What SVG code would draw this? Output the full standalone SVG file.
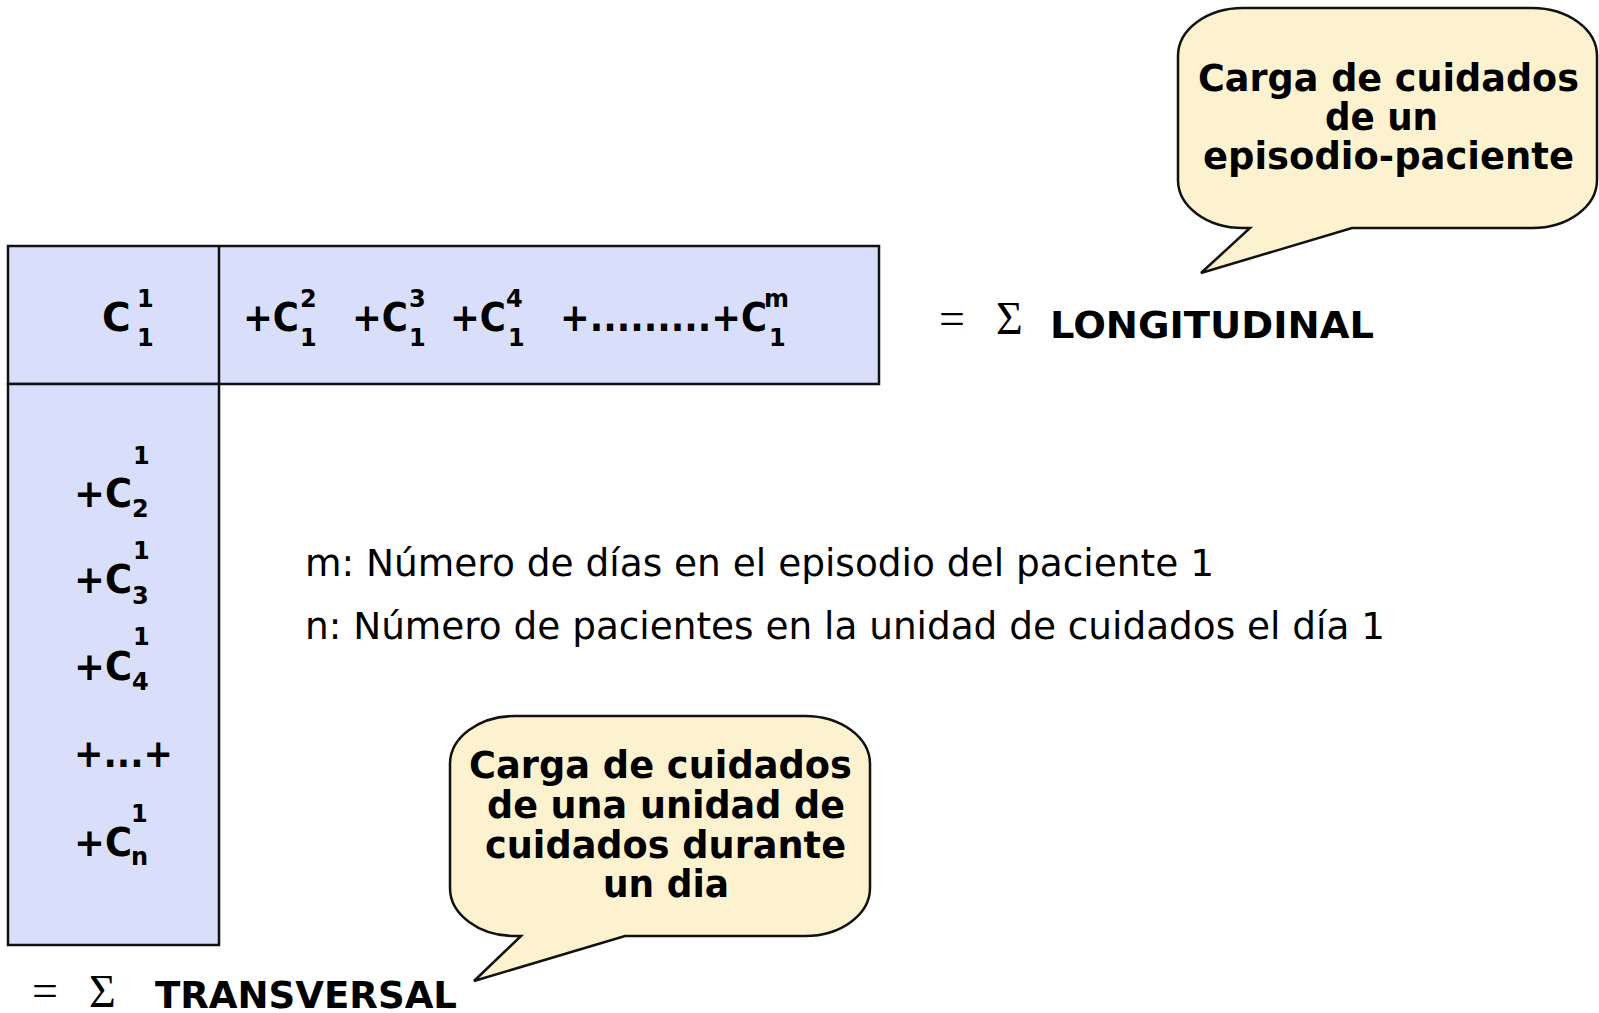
<svg xmlns="http://www.w3.org/2000/svg" width="1599" height="1013" viewBox="0 0 1599 1013">
<style>
.box{fill:#D9DFFA;stroke:#111;stroke-width:2.5}
.call{fill:#FDF2D0;stroke:#111;stroke-width:2.5}
.b{font-family:"DejaVu Sans","Liberation Sans",sans-serif;font-weight:bold;fill:#000}
.big{font-size:39px}
.sm{font-size:24px}
.ct{font-size:37px}
.r{font-family:"DejaVu Sans","Liberation Sans",sans-serif;font-size:37px;fill:#000}
.s{font-family:"Liberation Serif",serif;font-size:46px;fill:#000}
</style>
<g id="row-box">
<rect class="box" x="8" y="246" width="871" height="138"/>
<line x1="219" y1="246" x2="219" y2="384" stroke="#111" stroke-width="2.5"/>
<text class="b big" x="102" y="331">C<tspan class="sm" x="137" y="307">1</tspan><tspan class="sm" x="137" y="346">1</tspan></text>
<text class="b big" x="243" y="331"><tspan textLength="56" lengthAdjust="spacingAndGlyphs">+C</tspan><tspan class="sm" x="300" y="307">2</tspan><tspan class="sm" x="300" y="346">1</tspan></text>
<text class="b big" x="352" y="331"><tspan textLength="56" lengthAdjust="spacingAndGlyphs">+C</tspan><tspan class="sm" x="409" y="307">3</tspan><tspan class="sm" x="409" y="346">1</tspan></text>
<text class="b big" x="450" y="331"><tspan textLength="56" lengthAdjust="spacingAndGlyphs">+C</tspan><tspan class="sm" x="506" y="307">4</tspan><tspan class="sm" x="508" y="346">1</tspan></text>
<text class="b big" x="560" y="331"><tspan textLength="207" lengthAdjust="spacingAndGlyphs">+.........+C</tspan><tspan class="sm" x="764" y="307">m</tspan><tspan class="sm" x="769" y="346">1</tspan></text>
</g>
<g id="column-box">
<rect class="box" x="8" y="384" width="211" height="561"/>
<text class="b big" x="74" y="507"><tspan textLength="58" lengthAdjust="spacingAndGlyphs">+C</tspan><tspan class="sm" x="133" y="464">1</tspan><tspan class="sm" x="132" y="517">2</tspan></text>
<text class="b big" x="74" y="593"><tspan textLength="58" lengthAdjust="spacingAndGlyphs">+C</tspan><tspan class="sm" x="133" y="559">1</tspan><tspan class="sm" x="132" y="604">3</tspan></text>
<text class="b big" x="74" y="680"><tspan textLength="58" lengthAdjust="spacingAndGlyphs">+C</tspan><tspan class="sm" x="133" y="645">1</tspan><tspan class="sm" x="132" y="690">4</tspan></text>
<text class="b big" x="74" y="767" textLength="99" lengthAdjust="spacingAndGlyphs">+...+</text>
<text class="b big" x="74" y="856"><tspan textLength="58" lengthAdjust="spacingAndGlyphs">+C</tspan><tspan class="sm" x="131" y="822">1</tspan><tspan class="sm" x="131" y="865">n</tspan></text>
</g>
<g id="longitudinal">
<text class="s" x="939" y="334">=</text>
<text class="s" x="996" y="334">Σ</text>
<text class="b" font-size="38" x="1050" y="338" textLength="324" lengthAdjust="spacingAndGlyphs">LONGITUDINAL</text>
</g>
<g id="transversal">
<text class="s" x="32" y="1006">=</text>
<text class="s" x="89" y="1007">Σ</text>
<text class="b" font-size="38" x="155" y="1008" textLength="302" lengthAdjust="spacingAndGlyphs">TRANSVERSAL</text>
</g>
<g id="legend">
<text class="r" x="305" y="576" textLength="909" lengthAdjust="spacingAndGlyphs">m: Número de días en el episodio del paciente 1</text>
<text class="r" x="305" y="639" textLength="1080" lengthAdjust="spacingAndGlyphs">n: Número de pacientes en la unidad de cuidados el día 1</text>
</g>
<g id="callout-episodio">
<path class="call" d="M1243,8 H1532 A65,48 0 0 1 1597,56 V180 A65,48 0 0 1 1532,228 H1352 L1201,273 L1250,228 H1243 A65,48 0 0 1 1178,180 V56 A65,48 0 0 1 1243,8 Z"/>
<text class="b ct" x="1198" y="91" textLength="381" lengthAdjust="spacingAndGlyphs">Carga de cuidados</text>
<text class="b ct" x="1325" y="130" textLength="113" lengthAdjust="spacingAndGlyphs">de un</text>
<text class="b ct" x="1203" y="169" textLength="371" lengthAdjust="spacingAndGlyphs">episodio-paciente</text>
</g>
<g id="callout-unidad">
<path class="call" d="M515,716 H805 A65,48 0 0 1 870,764 V888 A65,48 0 0 1 805,936 H625 L474,981 L521,936 H515 A65,48 0 0 1 450,888 V764 A65,48 0 0 1 515,716 Z"/>
<text class="b ct" x="469" y="778" textLength="383" lengthAdjust="spacingAndGlyphs">Carga de cuidados</text>
<text class="b ct" x="487" y="818" textLength="358" lengthAdjust="spacingAndGlyphs">de una unidad de</text>
<text class="b ct" x="485" y="858" textLength="361" lengthAdjust="spacingAndGlyphs">cuidados durante</text>
<text class="b ct" x="603" y="897" textLength="126" lengthAdjust="spacingAndGlyphs">un dia</text>
</g>
</svg>
